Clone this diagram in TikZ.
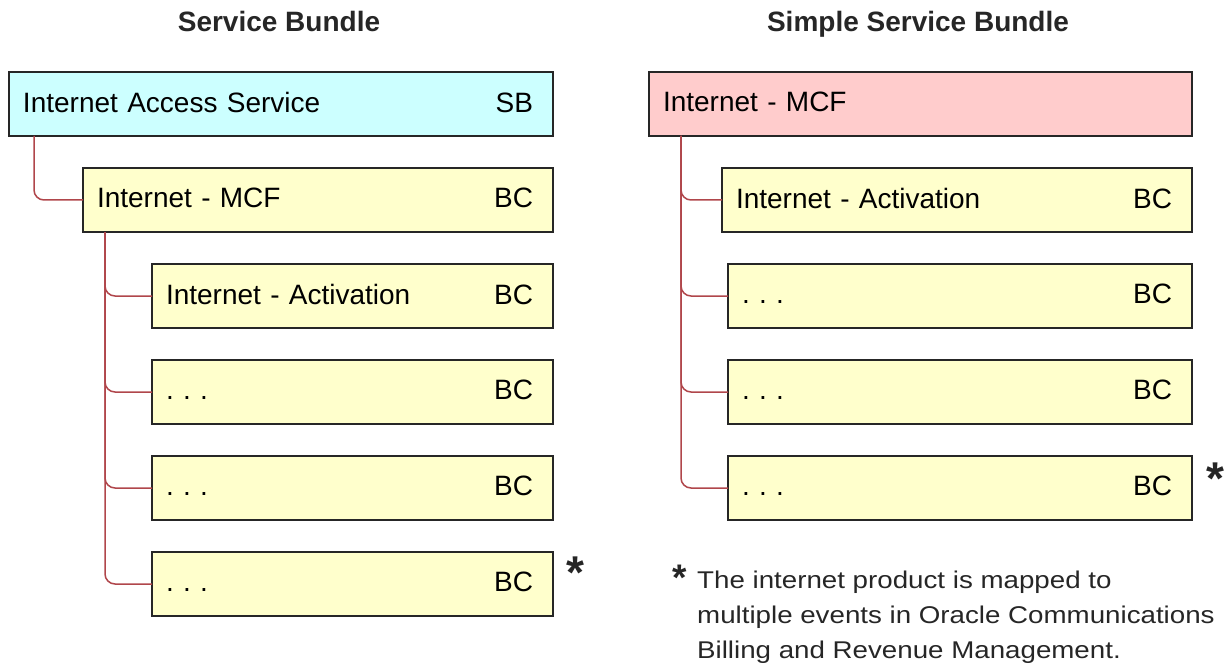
\documentclass[tikz,border=0pt]{standalone}
\usepackage{fontspec}
\setmainfont{Liberation Sans}
\newfontfamily\notefont[FakeStretch=1.145]{Liberation Sans}
\usetikzlibrary{positioning}
\frenchspacing
\definecolor{sbcyan}{HTML}{CCFFFF}
\definecolor{bcyellow}{HTML}{FFFFCC}
\definecolor{ssbpink}{HTML}{FFCCCC}
\definecolor{linkred}{HTML}{B0464B}
\newcommand{\rowtext}[2]{#1\hfill#2\kern6pt} % name on the left, kind on the right
\tikzset{
    box/.style={rectangle, draw=black!85, line width=1.2pt, outer sep=0pt, minimum height=64pt, inner xsep=14pt, inner ysep=0pt, text depth=4pt, font=\fontsize{28}{34}\selectfont}, % every box of the trees
    sbbox/.style={box, fill=sbcyan}, % the service bundle
    ssbbox/.style={box, fill=ssbpink}, % the simple service bundle
    bcbox/.style={box, fill=bcyellow}, % the balance charges
    link/.style={draw=linkred, line width=1.5pt, rounded corners=10pt}, % tree lines
    title/.style={font=\bfseries\fontsize{28}{34}\selectfont, text=black!85}, % column headings
    asterisk/.style={inner sep=0pt, anchor=base, font=\bfseries\fontsize{46}{46}\selectfont, text=black!85}, % the note marks
    note/.style={inner sep=0pt, anchor=north west, align=left, font=\notefont\fontsize{24.2}{34.8}\selectfont, text=black!85}, % the footnote
}
\begin{document}
\begin{tikzpicture}
\useasboundingbox (0,0) rectangle (1227pt,-666pt);

% left: service bundle
\node[title, anchor=base] (sbtitle) at (279pt,-32pt) {Service Bundle};
\node[sbbox, anchor=north west, text width=516pt] (sb) at (9pt,-72pt) {\rowtext{Internet Access Service}{SB}};
\node[bcbox, below right=32pt and 74pt of sb.south west, text width=442pt] (mcf) {\rowtext{Internet - MCF}{BC}};
\node[bcbox, below right=32pt and 69pt of mcf.south west, text width=373pt] (act) {\rowtext{Internet - Activation}{BC}};
\node[bcbox, below=32pt of act.south west, anchor=north west, text width=373pt] (dots1) {\rowtext{. . .}{BC}};
\node[bcbox, below=32pt of dots1.south west, anchor=north west, text width=373pt] (dots2) {\rowtext{. . .}{BC}};
\node[bcbox, below=32pt of dots2.south west, anchor=north west, text width=373pt] (dots3) {\rowtext{. . .}{BC}};
\node[asterisk] (star1) at ([xshift=22pt, yshift=-36pt]dots3.north east) {*};

\draw[link] ([xshift=25pt]sb.south west) |- (mcf.west);
\foreach \child in {act, dots1, dots2, dots3}
    \draw[link] ([xshift=22pt]mcf.south west) |- (\child.west);

% right: simple service bundle
\node[title, anchor=base] (ssbtitle) at (918pt,-32pt) {Simple Service Bundle};
\node[ssbbox, anchor=north west, text width=515pt] (ssb) at (649pt,-72pt) {\rowtext{Internet - MCF}{}};
\node[bcbox, below right=32pt and 73pt of ssb.south west, text width=442pt] (ract) {\rowtext{Internet - Activation}{BC}};
\node[bcbox, below right=32pt and 6pt of ract.south west, text width=436pt] (rdots1) {\rowtext{. . .}{BC}};
\node[bcbox, below=32pt of rdots1.south west, anchor=north west, text width=436pt] (rdots2) {\rowtext{. . .}{BC}};
\node[bcbox, below=32pt of rdots2.south west, anchor=north west, text width=436pt] (rdots3) {\rowtext{. . .}{BC}};
\node[asterisk] (star2) at ([xshift=23pt, yshift=-38pt]rdots3.north east) {*};

\foreach \child in {ract, rdots1, rdots2, rdots3}
    \draw[link] ([xshift=32pt]ssb.south west) |- (\child.west);

% footnote
\node[note] (note) at (697pt,-570.7pt) {The internet product is mapped to\\multiple events in Oracle Communications\\Billing and Revenue Management.};
\node[asterisk, font=\bfseries\fontsize{37}{37}\selectfont] (star3) at ([xshift=-17.5pt, yshift=-19.3pt]note.north west) {*};

\end{tikzpicture}
\end{document}
